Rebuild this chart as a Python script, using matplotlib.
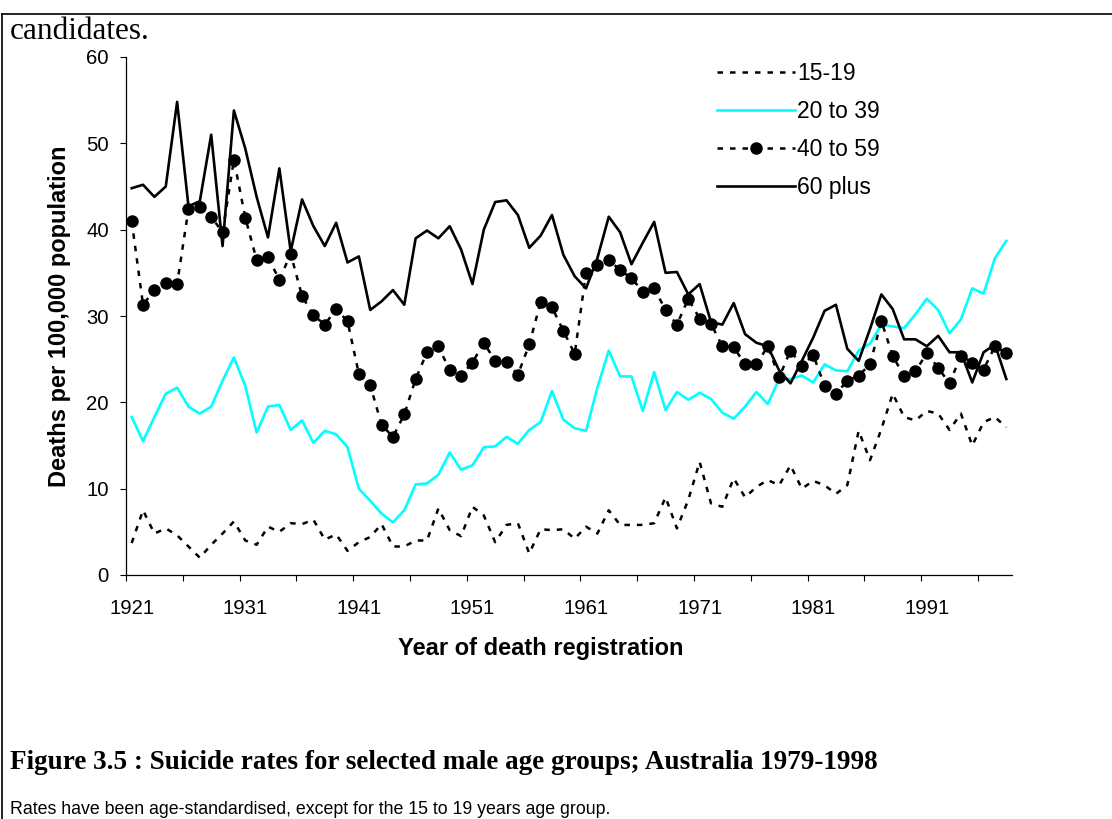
import matplotlib
matplotlib.use("Agg")
import matplotlib.pyplot as plt
from matplotlib.lines import Line2D
from matplotlib.ticker import FixedLocator, FixedFormatter

# years of death registration
years = list(range(1921, 1999))

# rates per 100,000
rate_15_19 = [3.7, 7.5, 4.8, 5.4, 4.6, 3.3, 2.0, 3.5, 4.8, 6.2, 4.0, 3.5, 5.6, 5.0, 6.0, 5.9, 6.4, 4.1, 4.7, 2.8,
              3.8, 4.4, 5.9, 3.3, 3.3, 4.0, 4.0, 7.7, 5.2, 4.5, 7.9, 6.9, 3.8, 5.8, 6.0, 2.5, 5.3, 5.2, 5.3, 4.2,
              5.6, 4.8, 7.5, 5.8, 5.8, 5.8, 6.0, 9.0, 5.4, 8.7, 13.1, 8.3, 7.9, 11.2, 9.0, 10.2, 11.0, 10.4,
              12.7, 10.0, 10.9, 10.4, 9.4, 10.4, 16.7, 13.3, 16.9, 21.0, 18.3, 17.9, 19.0, 18.7, 16.8, 18.7, 15.0, 17.7, 18.3, 17.1]
rate_20_39 = [18.3, 15.5, 18.3, 21.0, 21.7, 19.5, 18.7, 19.5, 22.5, 25.2, 21.9, 16.5, 19.5, 19.7, 16.8, 17.9, 15.3, 16.7, 16.3, 14.8,
              10.0, 8.6, 7.1, 6.1, 7.5, 10.5, 10.6, 11.6, 14.2, 12.2, 12.7, 14.8, 14.9, 16.0, 15.2, 16.8, 17.7, 21.3, 18.0, 17.0,
              16.7, 21.7, 26.0, 23.0, 23.0, 19.0, 23.5, 19.1, 21.2, 20.3, 21.1, 20.4, 18.8, 18.1, 19.5, 21.2, 19.8, 22.7,
              22.7, 23.1, 22.3, 24.4, 23.7, 23.6, 26.0, 26.8, 29.0, 28.8, 28.6, 30.2, 32.0, 30.7, 28.0, 29.6, 33.2, 32.6, 36.7, 38.7]
rate_40_59 = [41.0, 31.3, 33.0, 33.8, 33.7, 42.4, 42.6, 41.5, 39.7, 48.1, 41.4, 36.5, 36.8, 34.2, 37.2, 32.3, 30.1, 29.0, 30.8, 29.4,
              23.3, 22.0, 17.4, 16.0, 18.6, 22.7, 25.8, 26.5, 23.7, 23.1, 24.6, 26.9, 24.8, 24.7, 23.2, 26.7, 31.6, 31.0, 28.3, 25.6,
              35.0, 35.9, 36.5, 35.3, 34.4, 32.8, 33.2, 30.7, 29.0, 32.0, 29.7, 29.1, 26.5, 26.4, 24.4, 24.4, 26.5, 22.9,
              26.0, 24.2, 25.5, 21.9, 21.0, 22.5, 23.1, 24.4, 29.4, 25.4, 23.0, 23.6, 25.7, 24.0, 22.2, 25.4, 24.6, 23.8, 26.5, 25.7]
rate_60_plus = [44.8, 45.2, 43.8, 45.0, 54.8, 42.7, 43.3, 51.0, 38.1, 53.8, 49.4, 43.8, 39.1, 47.1, 37.5, 43.5, 40.4, 38.1, 40.8, 36.2,
                36.9, 30.7, 31.7, 33.0, 31.3, 39.0, 39.9, 39.0, 40.4, 37.7, 33.7, 40.0, 43.2, 43.4, 41.7, 37.9, 39.3, 41.7, 37.1, 34.6,
                33.2, 36.7, 41.5, 39.7, 36.0, 38.5, 40.9, 35.0, 35.1, 32.5, 33.7, 29.3, 29.0, 31.5, 27.9, 26.9, 26.5, 23.7,
                22.2, 24.8, 27.5, 30.6, 31.3, 26.2, 24.8, 28.5, 32.5, 30.8, 27.3, 27.3, 26.5, 27.7, 25.8, 25.8, 22.3, 25.8, 26.7, 22.7]

W, H = 1112, 819
plt.rcParams["font.family"] = ["Liberation Sans", "DejaVu Sans"]

fig = plt.figure(figsize=(W / 100, H / 100), dpi=100)
fig.patch.set_facecolor("white")

# plot area in pixels: x 126..1012, y 57..575
ax = fig.add_axes([126 / W, 1 - 575 / H, 886 / W, 518 / H])

x = list(range(len(years)))
dash = (0, (2.2, 2.8))
ax.plot(x, rate_15_19, color="black", lw=1.8, linestyle=dash, label="15-19")
ax.plot(x, rate_20_39, color="#00FFFF", lw=1.9, label="20 to 39")
ax.plot(x, rate_40_59, color="black", lw=1.8, linestyle=dash, marker="o", markersize=8, label="40 to 59")
ax.plot(x, rate_60_plus, color="black", lw=1.9, label="60 plus")

ax.set_xlim(-0.5, len(years) - 0.5)
ax.set_ylim(0, 60)
ax.set_yticks(range(0, 61, 10))

# category axis: tick marks between categories every 5 years, labels every 10 years
ax.xaxis.set_major_locator(FixedLocator([i - 0.5 for i in range(0, len(years), 5)]))
ax.xaxis.set_major_formatter(FixedFormatter([]))
lab_pos = list(range(0, len(years), 10))
ax.xaxis.set_minor_locator(FixedLocator(lab_pos))
ax.xaxis.set_minor_formatter(FixedFormatter([str(years[i]) for i in lab_pos]))
ax.tick_params(axis="x", which="major", direction="out", length=4.5, width=0.8)
ax.tick_params(axis="x", which="minor", length=0, pad=17.5, labelsize=14.6)
ax.tick_params(axis="y", direction="out", length=4.5, width=0.8, pad=8, labelsize=14.6)

for s in ["top", "right"]:
    ax.spines[s].set_visible(False)
for s in ["left", "bottom"]:
    ax.spines[s].set_linewidth(0.9)

ax.set_ylabel("Deaths per 100,000 population", fontsize=17, fontweight="bold", va="center")
ax.yaxis.set_label_coords(-(126 - 60) / 886, 0.5)
ax.set_xlabel("Year of death registration", fontsize=17, fontweight="bold", va="center")
ax.xaxis.set_label_coords((541 - 126) / 886, -(648 - 575) / 518)

leg = ax.legend(loc="upper left", bbox_to_anchor=(717 / W, 1 - 62 / H), bbox_transform=fig.transFigure,
                frameon=False, fontsize=16.5, handlelength=3.4, handletextpad=0.1,
                labelspacing=0.66, borderpad=0, borderaxespad=0)

# page elements around the chart
fig.add_artist(Line2D([2 / W, 1], [1 - 14 / H, 1 - 14 / H], color="black", lw=1.2))
fig.add_artist(Line2D([2 / W, 2 / W], [0, 1 - 14 / H], color="black", lw=1.2))
fig.text(10 / W, 1 - 39 / H, "candidates.", family="Liberation Serif", fontsize=22.5, va="baseline")
fig.text(10 / W, 1 - 769 / H,
         "Figure 3.5 : Suicide rates for selected male age groups; Australia 1979-1998",
         family="Liberation Serif", fontweight="bold", fontsize=19.5, va="baseline")
fig.text(10 / W, 1 - 814 / H,
         "Rates have been age-standardised, except for the 15 to 19 years age group.",
         fontsize=12.8, va="baseline")

fig.savefig("out.png", dpi=100)
